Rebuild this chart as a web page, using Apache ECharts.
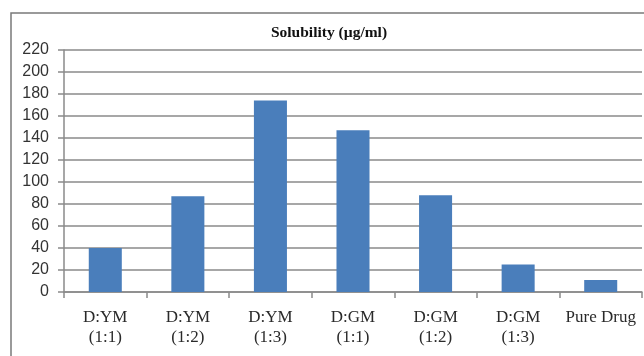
<!DOCTYPE html>
<html>
<head>
<meta charset="utf-8">
<script src="https://cdn.jsdelivr.net/npm/echarts@6/dist/echarts.min.js"></script>
<style>
html,body{margin:0;padding:0;background:#fff;}
#chart{width:644px;height:356px;}
</style>
</head>
<body>
<div id="chart"></div>
<script>
var titleText = 'Solubility (\u00b5g/ml)';
var categories = ['D:YM\n(1:1)', 'D:YM\n(1:2)', 'D:YM\n(1:3)', 'D:GM\n(1:1)', 'D:GM\n(1:2)', 'D:GM\n(1:3)', 'Pure Drug'];
var solubility = [40, 87, 174, 147, 88, 25, 11];
var yMin = 0, yMax = 220, yStep = 20;

var chart = echarts.init(document.getElementById('chart'), null, {renderer: 'canvas'});
chart.setOption({
  animation: false,
  backgroundColor: '#ffffff',
  title: {
    text: titleText,
    left: 324,
    textAlign: 'center',
    top: 20,
    textStyle: {fontFamily: 'Liberation Serif', fontWeight: 'bold', fontSize: 15.5, color: '#111'}
  },
  graphic: [{
    type: 'polyline',
    shape: {points: [[11, 356], [11, 13], [644, 13]]},
    style: {stroke: '#7a7a7a', lineWidth: 1.5, fill: null},
    silent: true
  }],
  grid: {left: 64, right: 2, top: 50, bottom: 64, containLabel: false},
  xAxis: {
    type: 'category',
    data: categories,
    boundaryGap: true,
    axisLine: {show: true, lineStyle: {color: '#8a8a8a', width: 1.5}},
    axisTick: {show: true, length: 6, alignWithLabel: false, lineStyle: {color: '#8a8a8a', width: 1.5}},
    axisLabel: {
      interval: 0,
      margin: 16,
      fontFamily: 'Liberation Serif',
      fontSize: 17,
      lineHeight: 20,
      color: '#2a2a2a'
    }
  },
  yAxis: {
    type: 'value',
    min: yMin,
    max: yMax,
    interval: yStep,
    axisLine: {show: true, lineStyle: {color: '#8a8a8a', width: 1.5}},
    axisTick: {show: true, length: 6, lineStyle: {color: '#8a8a8a', width: 1.5}},
    axisLabel: {margin: 15, fontFamily: 'Liberation Sans', fontSize: 16, color: '#333'},
    splitLine: {show: true, lineStyle: {color: '#8a8a8a', width: 1.5}}
  },
  series: [{
    type: 'bar',
    data: solubility,
    barWidth: '40%',
    itemStyle: {color: '#4a7ebb'}
  }]
});
</script>
</body>
</html>
